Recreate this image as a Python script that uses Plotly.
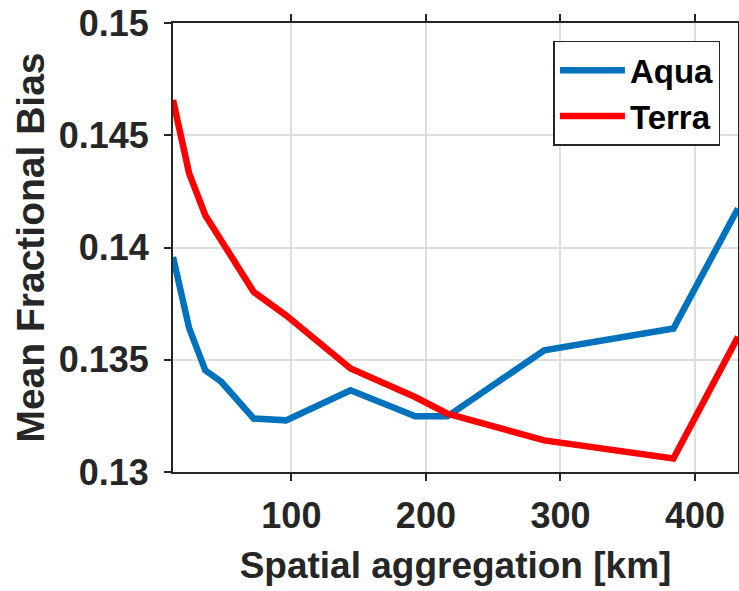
import plotly.graph_objects as go

# Data
x_km = [12, 24, 36, 48, 72, 96, 144, 192, 216, 288, 384, 432]
aqua = [0.13958, 0.13641, 0.13453, 0.13401, 0.13238, 0.13230, 0.13364,
        0.13248, 0.13248, 0.13542, 0.13639, 0.14174]
terra = [0.14657, 0.14330, 0.14144, 0.14030, 0.13802, 0.13698, 0.13461,
         0.13334, 0.13260, 0.13141, 0.13060, 0.13602]
x_ticks = [100, 200, 300, 400]
y_ticks = [0.13, 0.135, 0.14, 0.145, 0.15]
y_ticklabels = ["0.13", "0.135", "0.14", "0.145", "0.15"]

FONT = "Liberation Sans, Arial, sans-serif"
AX = "#262626"

fig = go.Figure()
fig.add_trace(go.Scatter(x=x_km, y=aqua, mode="lines", name="Aqua",
                         line=dict(color="#0072BD", width=6.5)))
fig.add_trace(go.Scatter(x=x_km, y=terra, mode="lines", name="Terra",
                         line=dict(color="#FF0000", width=6.5)))

fig.update_layout(
    width=739, height=591,
    margin=dict(l=173, r=1, t=23, b=119),
    paper_bgcolor="white", plot_bgcolor="white",
    font=dict(family=FONT, color=AX, size=36, weight="bold"),
    legend=dict(
        x=0.9689, y=0.9605, xanchor="right", yanchor="top",
        bgcolor="white", bordercolor="#262626", borderwidth=1.5,
        font=dict(family=FONT, size=33, color="black", weight="bold"),
        itemwidth=65, tracegroupgap=0,
    ),
    xaxis=dict(
        range=[12, 432], tickvals=x_ticks, automargin=False,
        ticks="outside", ticklen=7, tickwidth=2, tickcolor=AX,
        showline=True, linecolor=AX, linewidth=2, mirror="ticks",
        showgrid=True, gridcolor="#dedede", gridwidth=1.5,
        zeroline=False, ticklabelstandoff=4,
        tickfont=dict(family=FONT, size=36, color=AX, weight="bold"),
        title=dict(text="Spatial aggregation [km]", standoff=17,
                   font=dict(family=FONT, size=37, color=AX, weight="bold")),
    ),
    yaxis=dict(
        range=[0.13, 0.15], tickvals=y_ticks, ticktext=y_ticklabels,
        automargin=False,
        ticks="outside", ticklen=7, tickwidth=2, tickcolor=AX,
        showline=True, linecolor=AX, linewidth=2, mirror="ticks",
        showgrid=True, gridcolor="#dedede", gridwidth=1.5,
        zeroline=False, ticklabelstandoff=8,
        tickfont=dict(family=FONT, size=36, color=AX, weight="bold"),
        title=dict(text="Mean Fractional Bias", standoff=2,
                   font=dict(family=FONT, size=39, color=AX, weight="bold")),
    ),
)

fig.write_html("out.html")
